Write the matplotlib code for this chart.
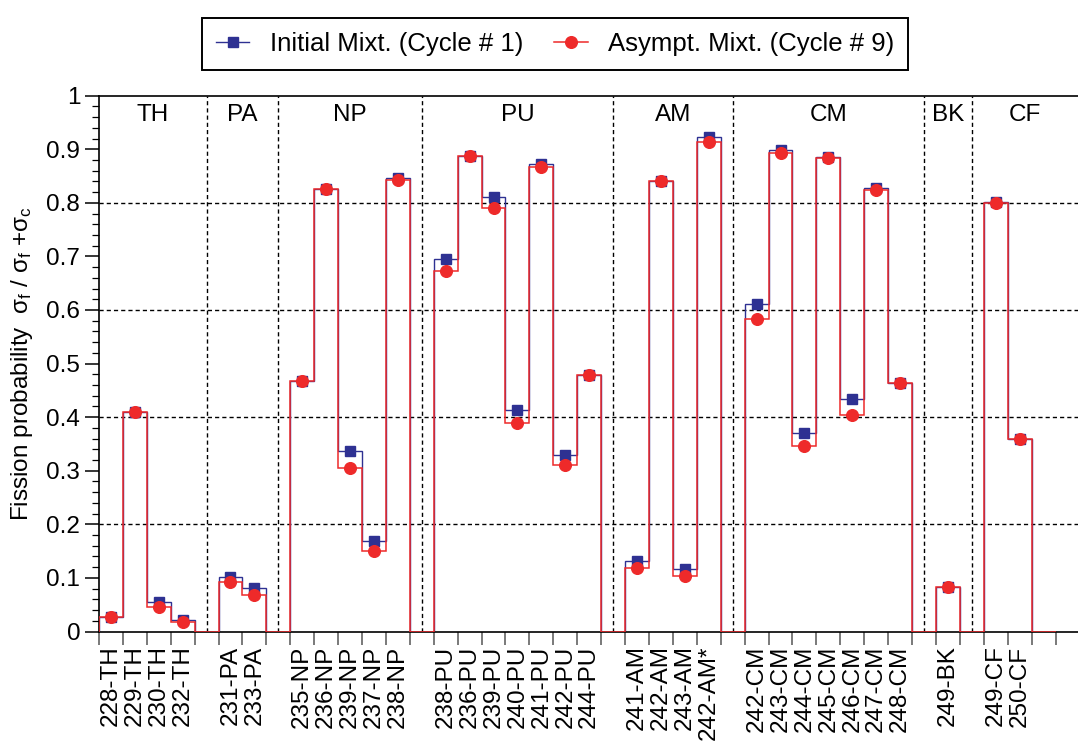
import numpy as np
import matplotlib
matplotlib.use('Agg')
import matplotlib.pyplot as plt
from matplotlib.lines import Line2D
from matplotlib.ticker import MultipleLocator, FixedLocator

plt.rcParams['font.family'] = ['Liberation Sans', 'DejaVu Sans']
plt.rcParams['mathtext.fontset'] = 'custom'
plt.rcParams['mathtext.rm'] = 'Liberation Sans'
plt.rcParams['mathtext.it'] = 'Liberation Sans:italic'

# Element groups and their nuclides (in plotting order)
groups = ['TH', 'PA', 'NP', 'PU', 'AM', 'CM', 'BK', 'CF']
nuclides = [
    ['228-TH', '229-TH', '230-TH', '232-TH'],
    ['231-PA', '233-PA'],
    ['235-NP', '236-NP', '239-NP', '237-NP', '238-NP'],
    ['238-PU', '236-PU', '239-PU', '240-PU', '241-PU', '242-PU', '244-PU'],
    ['241-AM', '242-AM', '243-AM', '242-AM*'],
    ['242-CM', '243-CM', '244-CM', '245-CM', '246-CM', '247-CM', '248-CM'],
    ['249-BK'],
    ['249-CF', '250-CF'],
]

# Fission probability sigma_f / (sigma_f + sigma_c)
initial = [
    [0.027, 0.409, 0.055, 0.022],
    [0.102, 0.081],
    [0.467, 0.826, 0.337, 0.168, 0.847],
    [0.695, 0.888, 0.810, 0.414, 0.872, 0.329, 0.479],
    [0.132, 0.841, 0.116, 0.922],
    [0.612, 0.898, 0.370, 0.886, 0.434, 0.827, 0.463],
    [0.084],
    [0.801, 0.359],
]
asympt = [
    [0.027, 0.409, 0.046, 0.017],
    [0.092, 0.068],
    [0.467, 0.825, 0.305, 0.150, 0.842],
    [0.673, 0.887, 0.790, 0.389, 0.866, 0.310, 0.479],
    [0.119, 0.840, 0.104, 0.914],
    [0.583, 0.893, 0.347, 0.884, 0.404, 0.823, 0.463],
    [0.084],
    [0.800, 0.359],
]

# Lay out bins: one empty bin between groups
pos, labels, v_ini, v_asy = [], [], [], []
sep = []
k = 0
for g, names in enumerate(nuclides):
    for j, nm in enumerate(names):
        pos.append(k)
        labels.append(nm)
        v_ini.append(initial[g][j])
        v_asy.append(asympt[g][j])
        k += 1
    if g < len(nuclides) - 1:
        sep.append(k + 0.5)
        k += 1
nbins = k + 1  # trailing empty bin
pos = np.array(pos)

step_ini = np.zeros(nbins)
step_asy = np.zeros(nbins)
step_ini[pos] = v_ini
step_asy[pos] = v_asy
edges = np.arange(nbins + 1)

blue = '#2e3192'
red = '#ee2a2a'
dash = (0, (3, 2.2))

fig = plt.figure(figsize=(10.78, 7.42), dpi=100)
ax = fig.add_axes([0.0918, 0.1489, 0.9082, 0.7222])

# grid lines
for yv in [0.2, 0.4, 0.6, 0.8]:
    ax.axhline(yv, color='black', lw=1.0, ls=dash, zorder=1)
for xs in sep:
    ax.axvline(xs, color='black', lw=1.0, ls=dash, zorder=1)

ax.stairs(step_ini, edges, baseline=0, color=blue, lw=1.0, zorder=2)
ax.plot(pos + 0.5, v_ini, ls='none', marker='s', ms=7.8, color=blue, zorder=3)
ax.stairs(step_asy, edges, baseline=0, color=red, lw=1.1, zorder=4)
ax.plot(pos + 0.5, v_asy, ls='none', marker='o', ms=8.4, color=red, zorder=5)

# group names
bounds = [0] + sep + [40.94]
for g, name in enumerate(groups):
    ax.text((bounds[g] + bounds[g + 1]) / 2, 0.963, name, ha='center', va='center',
            fontsize=17.5)

ax.set_xlim(0, 40.94)
ax.set_ylim(0, 1)

ax.xaxis.set_major_locator(FixedLocator(edges))
ax.xaxis.set_minor_locator(FixedLocator(pos + 0.5))
ax.set_xticklabels([], minor=False)
ax.set_xticklabels(labels, minor=True, rotation=90, fontsize=17.5)
ax.tick_params(axis='x', which='major', length=9, width=1.1, color='#555555', direction='out')
ax.tick_params(axis='x', which='minor', length=0, pad=10)

ax.yaxis.set_minor_locator(MultipleLocator(0.02))
ax.set_yticks(np.arange(0, 1.01, 0.1))
ax.set_yticklabels(['0', '0.1', '0.2', '0.3', '0.4', '0.5', '0.6', '0.7', '0.8', '0.9', '1'],
                   fontsize=17.5)
ax.tick_params(axis='y', which='major', length=10, width=1.1, direction='out')
ax.tick_params(axis='y', which='minor', length=5, width=0.9, direction='out')

ax.spines['right'].set_visible(False)
for s in ['left', 'bottom', 'top']:
    ax.spines[s].set_linewidth(1.2)

ax.set_ylabel('Fission probability  σ$_\\mathrm{f}$ / σ$_\\mathrm{f}$ +σ$_\\mathrm{c}$',
              fontsize=17.5, labelpad=8)

handles = [
    Line2D([], [], color=blue, marker='s', ms=7.8, lw=1.0),
    Line2D([], [], color=red, marker='o', ms=8.4, lw=1.1),
]
leg = fig.legend(handles, ['Initial Mixt. (Cycle # 1)', 'Asympt. Mixt. (Cycle # 9)'],
                 loc='center', bbox_to_anchor=(0.515, 0.9407), ncol=2, fontsize=18.5,
                 fancybox=False, edgecolor='black', framealpha=1, handlelength=1.3,
                 columnspacing=1.2, borderpad=0.55, handletextpad=0.8)
leg.get_frame().set_linewidth(1.4)

fig.savefig('out.png', dpi=100)
